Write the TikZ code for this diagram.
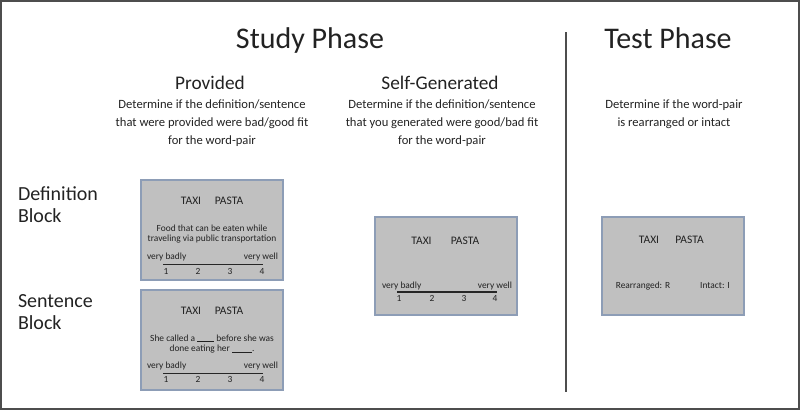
\documentclass[tikz,border=0pt]{standalone}
\usepackage{fontspec}
\setmainfont{Carlito}
\definecolor{frame}{HTML}{4D4D4D}
\definecolor{boxfill}{HTML}{C0C0C0}
\definecolor{boxedge}{HTML}{8D9DB6}
\definecolor{txt}{HTML}{222222}
\tikzset{
  every node/.style={inner sep=0pt, outer sep=0pt, text=txt},
  phase/.style={anchor=base, font=\fontsize{30}{36}\selectfont},
  cond/.style={anchor=base, font=\fontsize{19.3}{23}\selectfont},
  desc/.style={anchor=base, font=\fontsize{12.6}{18}\selectfont},
  blocklbl/.style={anchor=base west, font=\fontsize{20}{22}\selectfont},
  card/.style={draw=boxedge, fill=boxfill, line width=1.1pt},
  pair/.style={anchor=base, font=\fontsize{11.5}{14}\selectfont},
  small/.style={anchor=base, font=\fontsize{9.4}{10.5}\selectfont},
  ratingline/.style={line width=1.3pt, draw=black!85},
}
\begin{document}
\begin{tikzpicture}[x=1pt, y=-1pt]
\useasboundingbox (0,0) rectangle (800,410);
\draw[frame, line width=1.6pt] (1,1) rectangle (799,409);

% headings
\node[phase] (study) at (310,48) {Study Phase};
\node[phase] (test) at (668,48) {Test Phase};
\coordinate (divtop) at (566,32);
\coordinate (divbot) at (566,392);
\draw[frame, line width=1.3pt] (divtop) -- (divbot);

\node[cond] (prov) at (210,89) {Provided};
\node[cond] (self) at (440,89) {Self-Generated};

\node[desc] (pd1) at (212,108) {Determine if the definition/sentence};
\node[desc] (pd2) at (212,126) {that were provided were bad/good fit};
\node[desc] (pd3) at (212,144) {for the word-pair};
\node[desc] (sd1) at (442,108) {Determine if the definition/sentence};
\node[desc] (sd2) at (442,126) {that you generated were good/bad fit};
\node[desc] (sd3) at (442,144) {for the word-pair};
\node[desc] (td1) at (674,108) {Determine if the word-pair};
\node[desc] (td2) at (674,126) {is rearranged or intact};

\node[blocklbl] (defa) at (18,200) {Definition};
\node[blocklbl] (defb) at (18,222) {Block};
\node[blocklbl] (sena) at (18,307) {Sentence};
\node[blocklbl] (senb) at (18,329) {Block};

% Card 1: definition
\draw[card] (141,180) rectangle (283,280);
\node[pair] (c1t) at (191,204) {TAXI};
\node[pair] (c1p) at (229,204) {PASTA};
\node[small] (c1a) at (212,231) {Food that can be eaten while};
\node[small] (c1b) at (212,241.5) {traveling via public transportation};
\node[small, anchor=base west] (c1l) at (147,259) {very badly};
\node[small, anchor=base east] (c1r) at (278,259) {very well};
\coordinate (c1s) at (163,264.5);
\coordinate (c1e) at (263,264.5);
\draw[ratingline] (c1s) -- (c1e);
\node[small] (c1n1) at (166,274.5) {1};
\node[small] (c1n2) at (198,274.5) {2};
\node[small] (c1n3) at (230,274.5) {3};
\node[small] (c1n4) at (262,274.5) {4};

% Card 2: sentence
\draw[card] (141,290) rectangle (283,390);
\node[pair] (c2t) at (191,314) {TAXI};
\node[pair] (c2p) at (229,314) {PASTA};
\node[small] (c2a) at (212,341) {She called a \rule[-0.6pt]{17pt}{0.5pt} before she was};
\node[small] (c2b) at (212,351.5) {done eating her \rule[-0.6pt]{20pt}{0.5pt}.};
\node[small, anchor=base west] (c2l) at (147,368.5) {very badly};
\node[small, anchor=base east] (c2r) at (278,368.5) {very well};
\coordinate (c2s) at (163,373.5);
\coordinate (c2e) at (263,373.5);
\draw[ratingline] (c2s) -- (c2e);
\node[small] (c2n1) at (166,382.5) {1};
\node[small] (c2n2) at (198,382.5) {2};
\node[small] (c2n3) at (230,382.5) {3};
\node[small] (c2n4) at (262,382.5) {4};

% Card 3: self-generated
\draw[card] (375,217) rectangle (517,315);
\node[pair] (c3t) at (421.5,244) {TAXI};
\node[pair] (c3p) at (465,244) {PASTA};
\node[small, anchor=base west] (c3l) at (382,288) {very badly};
\node[small, anchor=base east] (c3r) at (512,288) {very well};
\coordinate (c3s) at (397,292);
\coordinate (c3e) at (497,292);
\draw[ratingline] (c3s) -- (c3e);
\node[small] (c3n1) at (399,301.5) {1};
\node[small] (c3n2) at (432,301.5) {2};
\node[small] (c3n3) at (464,301.5) {3};
\node[small] (c3n4) at (495,301.5) {4};

% Card 4: test
\draw[card] (602,217) rectangle (744,315);
\node[pair] (c4t) at (649,243) {TAXI};
\node[pair] (c4p) at (689.5,243) {PASTA};
\node[small] (c4r) at (643,288) {Rearranged: R};
\node[small] (c4i) at (715,288) {Intact: I};
\end{tikzpicture}
\end{document}
